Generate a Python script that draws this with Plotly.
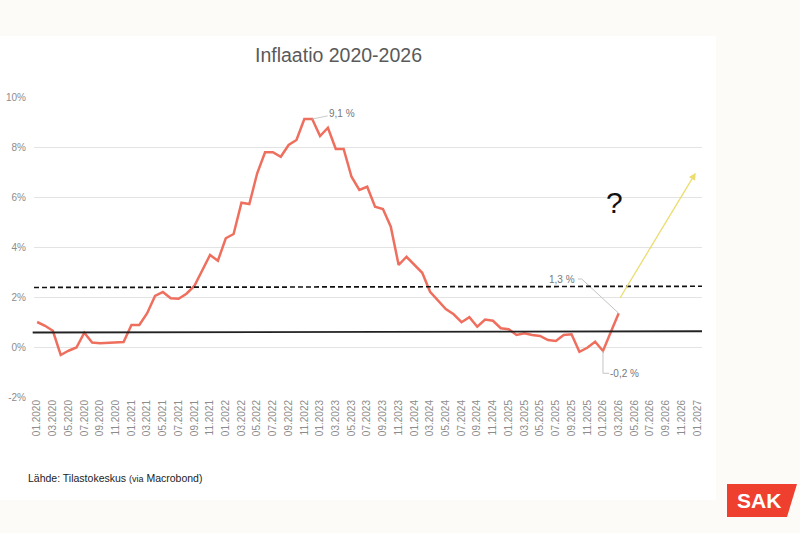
import plotly.graph_objects as go

# ---- data -------------------------------------------------------------
start_year = 2020
# monthly inflation, 01.2020 .. 03.2026 (%)
inflation_2020 = [1.0, 0.85, 0.65, -0.32, -0.15, -0.02, 0.57, 0.18, 0.15, 0.17, 0.2, 0.2]
inflation_2021 = [0.88, 0.88, 1.35, 2.04, 2.2, 1.95, 1.93, 2.13, 2.44, 3.08, 3.68, 3.45]
inflation_2022 = [4.35, 4.52, 5.77, 5.72, 6.95, 7.79, 7.79, 7.61, 8.08, 8.28, 9.12, 9.12]
inflation_2023 = [8.44, 8.77, 7.92, 7.92, 6.81, 6.28, 6.41, 5.61, 5.52, 4.81, 3.28, 3.61]
inflation_2024 = [3.31, 2.97, 2.21, 1.88, 1.52, 1.31, 0.99, 1.19, 0.81, 1.1, 1.05, 0.75]
inflation_2025 = [0.71, 0.48, 0.55, 0.48, 0.44, 0.28, 0.24, 0.48, 0.51, -0.19, -0.03, 0.21]
inflation_2026 = [-0.16, 0.6, 1.35]

inflation = (inflation_2020 + inflation_2021 + inflation_2022 + inflation_2023
             + inflation_2024 + inflation_2025 + inflation_2026)

# reference lines (start, end) in %
dashed_line = [2.38, 2.43]
solid_line = [0.58, 0.63]

# forecast arrow: (month index, value) start and end
arrow_start = [74.07, 1.91]
arrow_end = [83.8, 6.97]

# tick labels: every 2 months from 01.2020 to 01.2027
tick_index = list(range(0, 85, 2))
tick_labels = [f"{(i % 12) + 1:02d}.{start_year + i // 12}" for i in tick_index]
y_ticks = [-2, 0, 2, 4, 6, 8, 10]
y_labels = [f"{v}%" for v in y_ticks]

idx = list(range(len(inflation)))

# ---- geometry helpers (pixels -> paper) -------------------------------
L, R, T, B = 34, 702, 97, 397
W, H = R - L, B - T
def px(x):
    return (x - L) / W
def py(y):
    return (B - y) / H

FONT = "Liberation Sans, Arial, sans-serif"

fig = go.Figure()

# main line
fig.add_trace(go.Scatter(x=idx, y=inflation, mode="lines",
                         line=dict(color="#EF6F5E", width=2.5),
                         hoverinfo="skip", showlegend=False))

# annotation leaders
last_i, last_v = idx[-1], inflation[-1]
low_i = len(inflation) - 3
low_v = inflation[low_i]
fig.add_trace(go.Scatter(x=[last_i, last_i - 4.7, last_i - 5.2],
                         y=[last_v, last_v + 1.37, last_v + 1.37],
                         mode="lines", line=dict(color="#c4c4c4", width=1),
                         hoverinfo="skip", showlegend=False))
fig.add_trace(go.Scatter(x=[low_i, low_i, low_i + 0.8],
                         y=[low_v, low_v - 0.89, low_v - 0.89],
                         mode="lines", line=dict(color="#c4c4c4", width=1),
                         hoverinfo="skip", showlegend=False))

peak_v = max(inflation)
peak_i = max(i for i, v in enumerate(inflation) if v == peak_v)

shapes = [
    # white card
    dict(type="rect", xref="paper", yref="paper", x0=px(-2), x1=px(716),
         y0=py(500), y1=py(36), fillcolor="white", line=dict(width=0), layer="below"),
    # reference lines
    dict(type="line", xref="paper", yref="y", x0=0, x1=1,
         y0=dashed_line[0], y1=dashed_line[1],
         line=dict(color="#111111", width=1.7, dash="5px,3px")),
    dict(type="line", xref="paper", yref="y", x0=-0.002, x1=1,
         y0=solid_line[0], y1=solid_line[1],
         line=dict(color="#222222", width=1.8)),
    # SAK logo
    dict(type="path", xref="paper", yref="paper",
         path=(f"M {px(727)},{py(484)} L {px(797)},{py(484)} "
               f"L {px(787)},{py(517)} L {px(727)},{py(517)} Z"),
         fillcolor="#EF3F2E", line=dict(width=0)),
]

annotations = [
    dict(x=peak_i, y=peak_v, text=f"{peak_v:.1f} %".replace(".", ","),
         showarrow=True, arrowhead=0, arrowwidth=0.8, arrowcolor="#bdbdbd",
         ax=30, ay=-6, font=dict(family=FONT, size=10, color="#777777")),
    dict(x=last_i - 5.3, y=last_v + 1.37, text=f"{1.3:.1f} %".replace(".", ","),
         showarrow=False, xanchor="right", yanchor="middle",
         font=dict(family=FONT, size=10, color="#777777")),
    dict(x=low_i + 0.7, y=low_v - 0.89, text="-0,2 %",
         showarrow=False, xanchor="left", yanchor="middle",
         font=dict(family=FONT, size=10, color="#777777")),
    # forecast arrow
    dict(x=arrow_end[0], y=arrow_end[1], ax=arrow_start[0], ay=arrow_start[1],
         xref="x", yref="y", axref="x", ayref="y", text="", showarrow=True,
         arrowhead=2, arrowsize=1.1, arrowwidth=1.3, arrowcolor="#EBDD6E"),
    dict(x=73.5, y=5.8, text="?", showarrow=False,
         font=dict(family=FONT, size=30, color="#111111")),
    # source
    dict(xref="paper", yref="paper", x=px(26), y=py(478), xanchor="left", yanchor="middle",
         text="Lähde: Tilastokeskus <span style='font-size:9px'>(via</span> Macrobond)",
         showarrow=False, font=dict(family=FONT, size=10.5, color="#222222")),
    # logo text
    dict(xref="paper", yref="paper", x=px(759), y=py(500.5), xanchor="center", yanchor="middle",
         text="<b>SAK</b>", showarrow=False,
         font=dict(family=FONT, size=21, color="white")),
]

fig.update_layout(
    width=800, height=533,
    margin=dict(l=L, r=800 - R, t=T, b=533 - B),
    paper_bgcolor="#fcfbf8",
    plot_bgcolor="rgba(0,0,0,0)",
    title=dict(text="Inflaatio 2020-2026", xref="container", yref="container",
               x=338.5 / 800, y=1 - 55 / 533, xanchor="center", yanchor="middle",
               font=dict(family=FONT, size=19.5, color="#5a5a5a")),
    shapes=shapes,
    annotations=annotations,
    showlegend=False,
    xaxis=dict(range=[-0.4, 84.6], tickmode="array", tickvals=tick_index,
               ticktext=tick_labels, tickangle=-90, showgrid=False, zeroline=False,
               showline=False, ticks="", automargin=False,
               tickfont=dict(family=FONT, size=10, color="#8c8c8c")),
    yaxis=dict(range=[-2, 10], tickmode="array", tickvals=y_ticks, ticktext=y_labels,
               showgrid=True, gridcolor="#e3e3e3", gridwidth=1, zeroline=False,
               showline=False, ticks="", ticklabelstandoff=7, automargin=False,
               tickfont=dict(family=FONT, size=10, color="#8c8c8c")),
)

fig.write_html("out.html", config={"displayModeBar": False},
               post_script="document.body.style.margin='0';document.body.style.padding='0';document.body.style.background='#fcfbf8';")
